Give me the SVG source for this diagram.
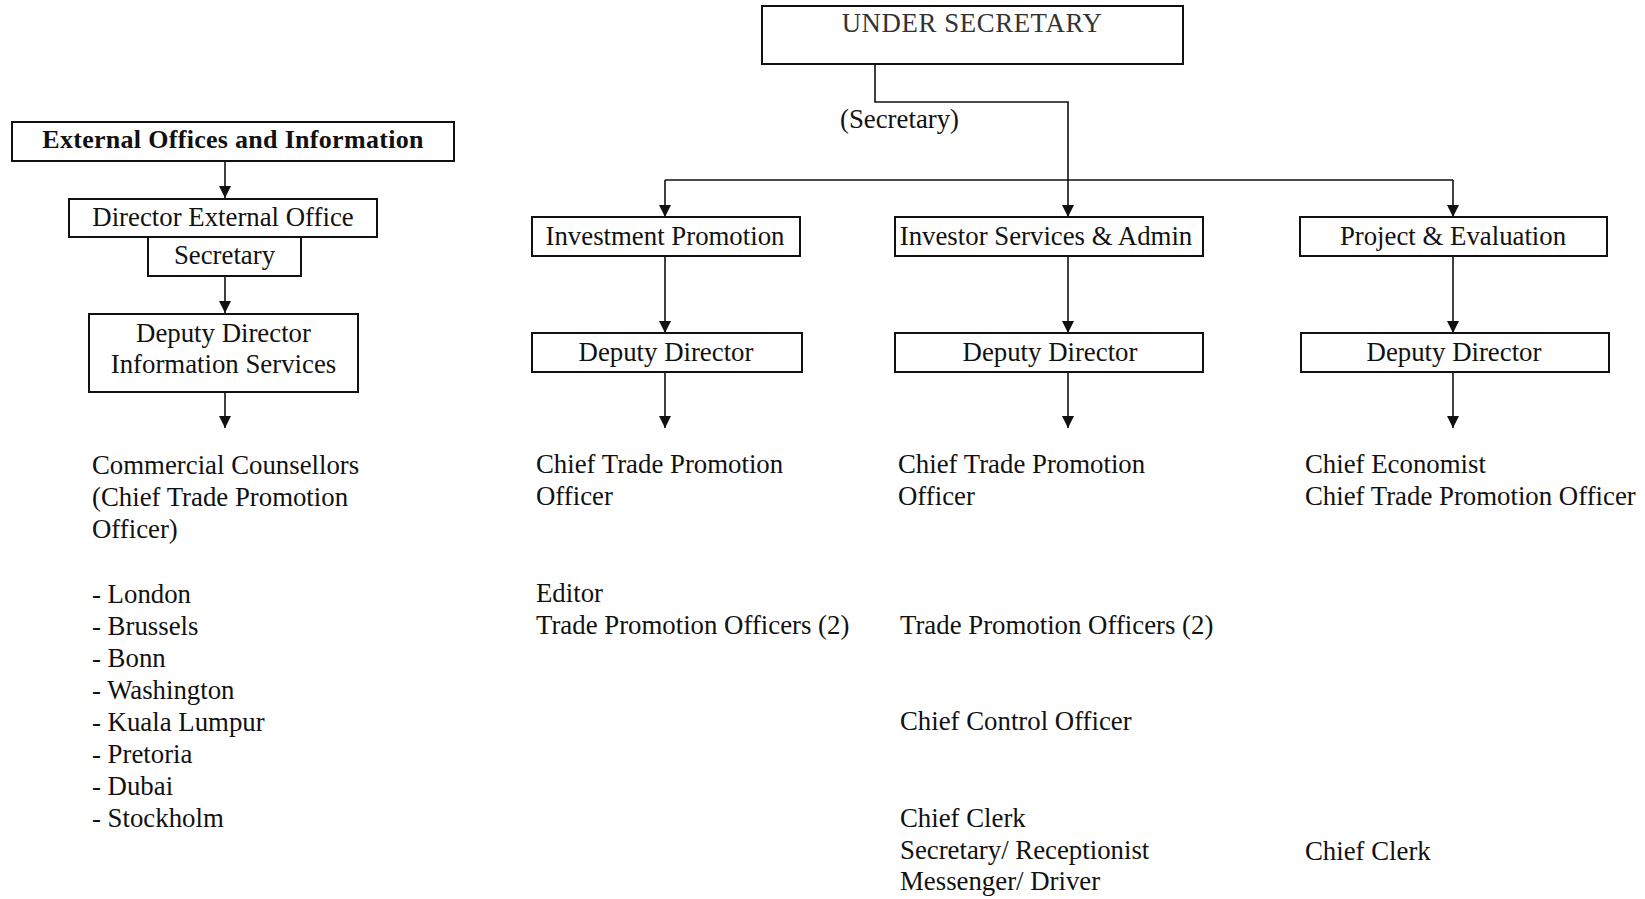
<svg xmlns="http://www.w3.org/2000/svg" width="1645" height="899" viewBox="0 0 1645 899">
<style>
  .box { fill: #fff; stroke: #111; stroke-width: 2; }
  .t { font-family: "Liberation Serif", "Times New Roman", serif; font-size: 26.8px; fill: #111; }
  .c { text-anchor: middle; }
  .b { font-weight: bold; font-size: 26px; }
  .ln { fill: none; stroke: #111; stroke-width: 1.6; }
</style>
<defs>
  <marker id="arr" markerUnits="userSpaceOnUse" markerWidth="12" markerHeight="12" refX="12" refY="6" orient="auto">
    <path d="M0,0 L12,6 L0,12 z" fill="#111"/>
  </marker>
</defs>
<rect width="1645" height="899" fill="#fff"/>

<g id="connectors">
  <path class="ln" d="M225,161 V198" marker-end="url(#arr)"/>
  <path class="ln" d="M225,276 V313" marker-end="url(#arr)"/>
  <path class="ln" d="M225,392 V428" marker-end="url(#arr)"/>
  <path class="ln" d="M875,64 V102 H1068 V217" marker-end="url(#arr)"/>
  <path class="ln" d="M665,180 H1453"/>
  <path class="ln" d="M665,180 V217" marker-end="url(#arr)"/>
  <path class="ln" d="M1453,180 V217" marker-end="url(#arr)"/>
  <path class="ln" d="M665,256 V333" marker-end="url(#arr)"/>
  <path class="ln" d="M1068,256 V333" marker-end="url(#arr)"/>
  <path class="ln" d="M1453,256 V333" marker-end="url(#arr)"/>
  <path class="ln" d="M665,372 V428" marker-end="url(#arr)"/>
  <path class="ln" d="M1068,372 V428" marker-end="url(#arr)"/>
  <path class="ln" d="M1453,372 V428" marker-end="url(#arr)"/>
</g>

<g id="under-secretary">
  <rect class="box" x="762" y="6" width="421" height="58"/>
  <text class="t c" x="972" y="32" letter-spacing="0.6" style="fill:#333">UNDER SECRETARY</text>
</g>
<text class="t" x="840" y="128">(Secretary)</text>

<g id="external-offices">
  <rect class="box" x="12" y="122" width="442" height="39"/>
  <text class="t c b" x="233" y="148" letter-spacing="0.3">External Offices and Information</text>
</g>
<g id="director-external">
  <rect class="box" x="69" y="199" width="308" height="38"/>
  <text class="t c" x="223" y="226">Director External Office</text>
</g>
<g id="secretary-left">
  <rect class="box" x="148" y="237" width="153" height="39"/>
  <text class="t c" x="224.5" y="264">Secretary</text>
</g>
<g id="deputy-info">
  <rect class="box" x="89" y="314" width="269" height="78"/>
  <text class="t c" x="223.5" y="342">Deputy Director</text>
  <text class="t c" x="223.5" y="373">Information Services</text>
</g>
<g id="commercial-counsellors">
  <text class="t" x="92" y="474">Commercial Counsellors</text>
  <text class="t" x="92" y="506">(Chief Trade Promotion</text>
  <text class="t" x="92" y="538">Officer)</text>
  <text class="t" x="92" y="603">- London</text>
  <text class="t" x="92" y="635">- Brussels</text>
  <text class="t" x="92" y="667">- Bonn</text>
  <text class="t" x="92" y="699">- Washington</text>
  <text class="t" x="92" y="731">- Kuala Lumpur</text>
  <text class="t" x="92" y="763">- Pretoria</text>
  <text class="t" x="92" y="795">- Dubai</text>
  <text class="t" x="92" y="827">- Stockholm</text>
</g>

<g id="investment-promotion">
  <rect class="box" x="532" y="217" width="268" height="39"/>
  <text class="t c" x="665" y="245">Investment Promotion</text>
</g>
<g id="deputy-investment">
  <rect class="box" x="532" y="333" width="270" height="39"/>
  <text class="t c" x="666" y="361">Deputy Director</text>
</g>
<g id="investment-staff">
  <text class="t" x="536" y="473">Chief Trade Promotion</text>
  <text class="t" x="536" y="505">Officer</text>
  <text class="t" x="536" y="602">Editor</text>
  <text class="t" x="536" y="634">Trade Promotion Officers (2)</text>
</g>

<g id="investor-services">
  <rect class="box" x="895" y="217" width="308" height="39"/>
  <text class="t c" x="1046" y="245">Investor Services &amp; Admin</text>
</g>
<g id="deputy-investor">
  <rect class="box" x="895" y="333" width="308" height="39"/>
  <text class="t c" x="1050" y="361">Deputy Director</text>
</g>
<g id="investor-staff">
  <text class="t" x="898" y="473">Chief Trade Promotion</text>
  <text class="t" x="898" y="505">Officer</text>
  <text class="t" x="900" y="634">Trade Promotion Officers (2)</text>
  <text class="t" x="900" y="730">Chief Control Officer</text>
  <text class="t" x="900" y="827">Chief Clerk</text>
  <text class="t" x="900" y="859">Secretary/ Receptionist</text>
  <text class="t" x="900" y="890">Messenger/ Driver</text>
</g>

<g id="project-evaluation">
  <rect class="box" x="1300" y="217" width="307" height="39"/>
  <text class="t c" x="1453" y="245">Project &amp; Evaluation</text>
</g>
<g id="deputy-project">
  <rect class="box" x="1301" y="333" width="308" height="39"/>
  <text class="t c" x="1454" y="361">Deputy Director</text>
</g>
<g id="project-staff">
  <text class="t" x="1305" y="473">Chief Economist</text>
  <text class="t" x="1305" y="505">Chief Trade Promotion Officer</text>
  <text class="t" x="1305" y="860">Chief Clerk</text>
</g>
</svg>
